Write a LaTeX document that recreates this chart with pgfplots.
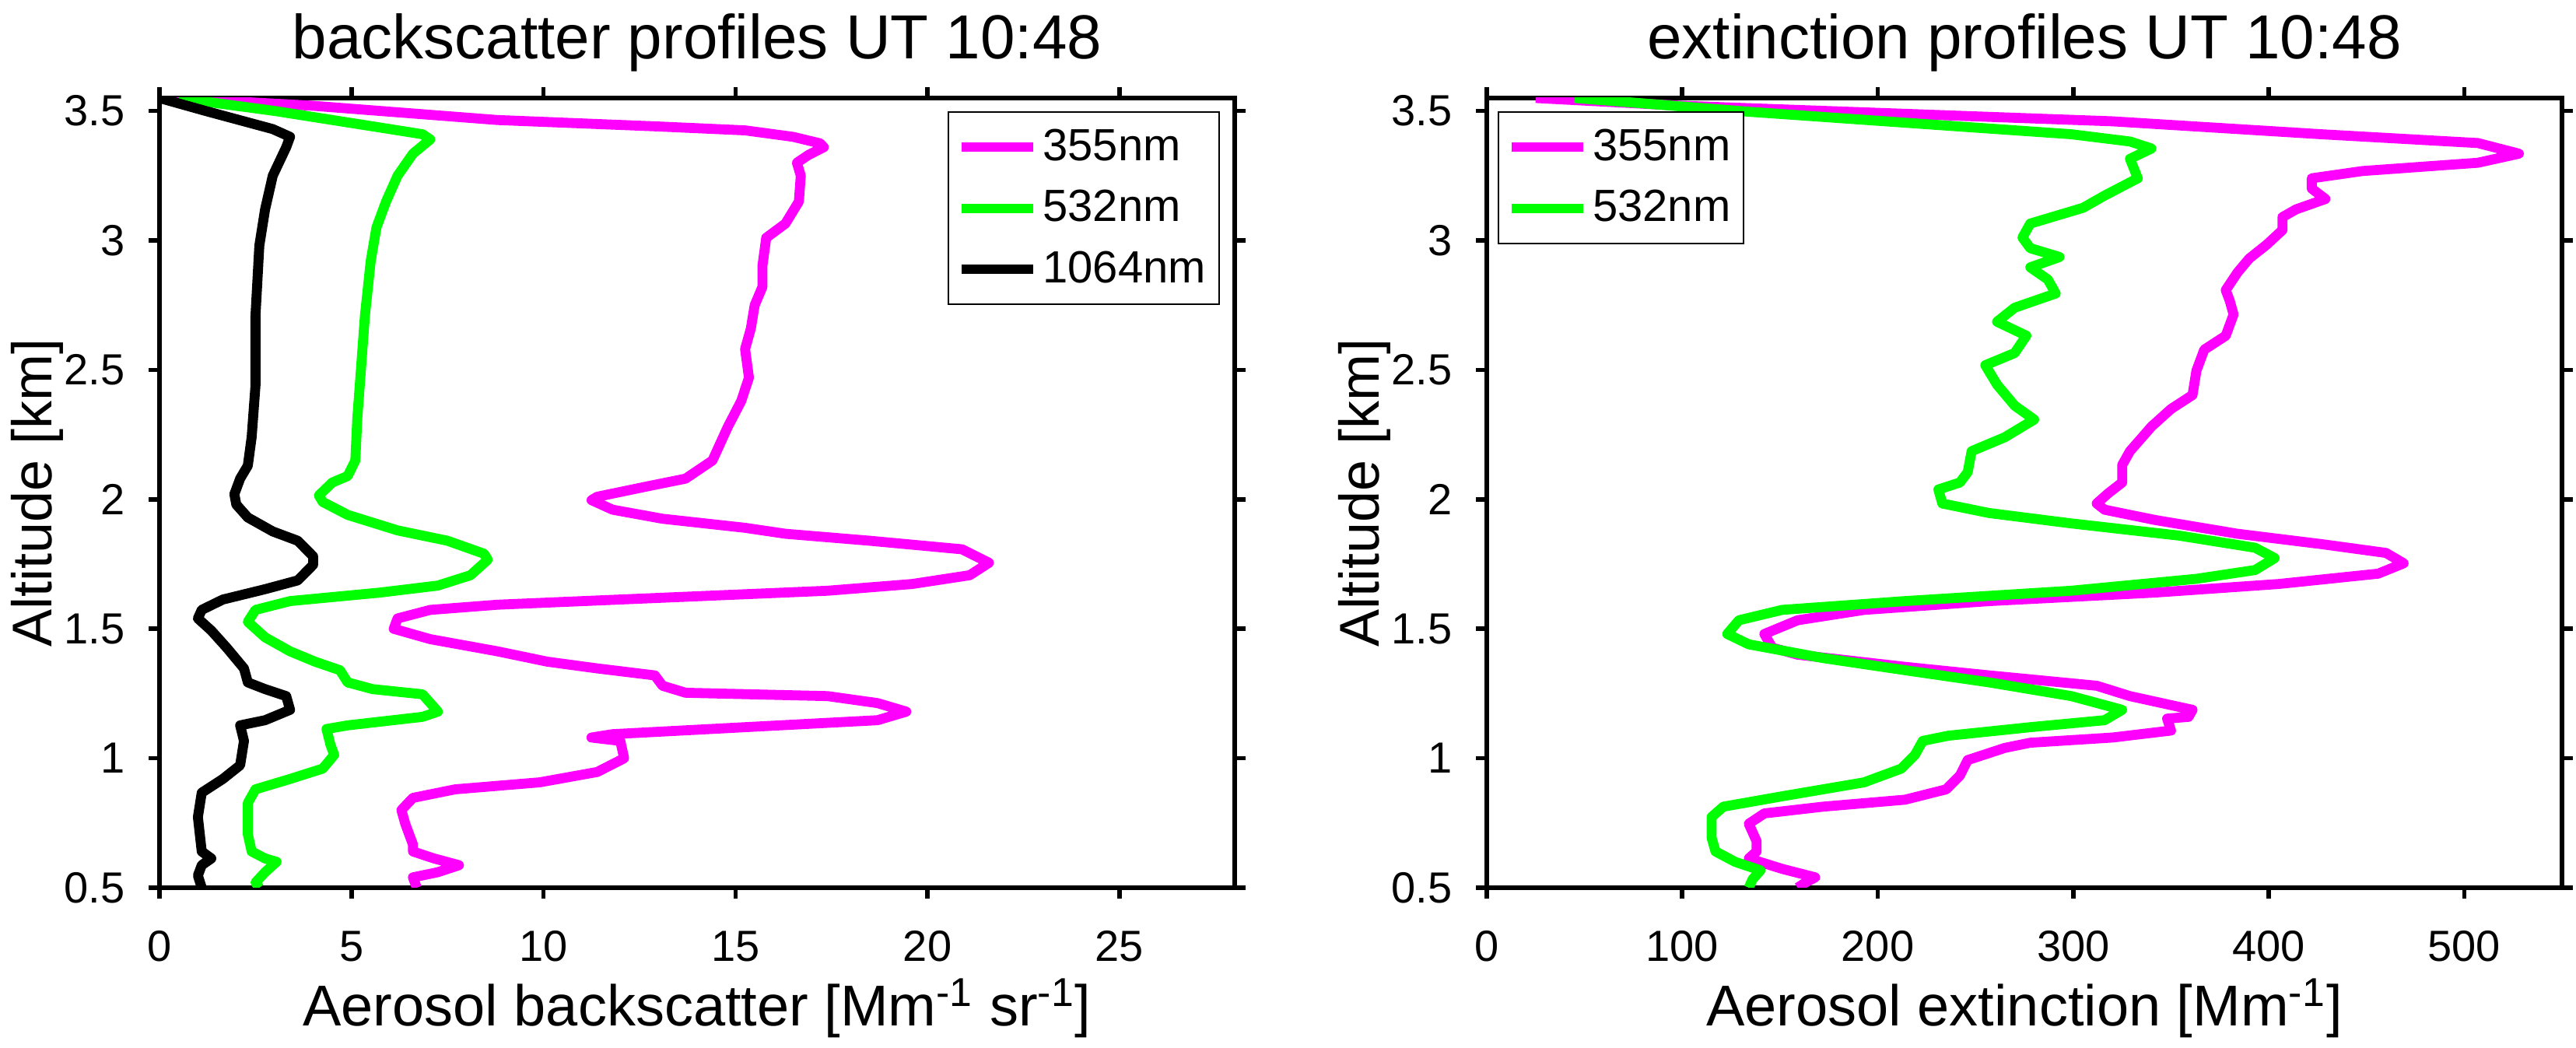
\documentclass[border=0pt]{standalone}
\usepackage{fontspec}
\setmainfont{Liberation Sans}
\usepackage{pgfplots}
\pgfplotsset{compat=1.18}
\definecolor{mag}{rgb}{1,0,1}
\definecolor{grn}{rgb}{0,1,0}
\pgfplotsset{
  myaxis/.style={
    scale only axis, width=345.5pt, height=253.75pt,
    ymin=0.5, ymax=3.55,
    ytick={0.5,1,1.5,2,2.5,3,3.5},
    tick align=outside,
    major tick length=3.5pt,
    axis line style={line width=1.4pt},
    every tick/.append style={line width=1.4pt, black},
    tick label style={font=\fontsize{14}{16}\selectfont},
    /pgf/number format/assume math mode=true,
    xticklabel style={anchor=base, yshift=-20.25pt},
    yticklabel style={anchor=east, inner xsep=0pt, xshift=-7.5pt},
    every axis title/.style={font=\fontsize{20}{24}\selectfont, at={(axis description cs:0.5,1)}, anchor=base, yshift=12.5pt},
    xlabel style={font=\fontsize{18.5}{22}\selectfont, at={(axis description cs:0.5,0)}, anchor=base, yshift=-44.5pt},
    ylabel style={font=\fontsize{18}{22}\selectfont, at={(axis description cs:-0.0999,0.5)}, anchor=base},
    ylabel={Altitude [km]},
    every axis plot/.append style={line width=3.2pt, line join=round},
    legend cell align=left,
    legend image code/.code={\draw[#1, line width=3pt] (0pt,0pt) -- (23pt,0pt);},
    legend style={draw=black, line width=0.5pt, font=\fontsize{14.5}{17}\selectfont,
      inner xsep=2.75pt, inner ysep=4pt, row sep=5pt, nodes={inner sep=1.5pt}},
  }
}
\begin{document}
\begin{tikzpicture}
\useasboundingbox (0,0) rectangle (827.75pt,336.75pt);
\begin{axis}[myaxis, at={(51.25pt,51.5pt)}, anchor=south west,
  xmin=0, xmax=28, xtick={0,5,10,15,20,25},
  title={backscatter profiles UT 10:48},
  xlabel={Aerosol backscatter [Mm\textsuperscript{-1} sr\textsuperscript{-1}]},
  legend style={at={(axis description cs:0.98625,0.98325)}, anchor=north east}]
\addplot[mag] coordinates {
(0.3,3.55) (4,3.52) (8.8,3.465) (13,3.44) (15.25,3.425) (16.5,3.40) (17.2,3.375) (17.3,3.36)
(16.9,3.33) (16.6,3.30) (16.7,3.25) (16.65,3.15) (16.3,3.065) (15.8,3.01) (15.7,2.90) (15.7,2.82)
(15.5,2.75) (15.4,2.66) (15.25,2.58) (15.35,2.47) (15.15,2.38) (14.8,2.28) (14.4,2.15) (13.7,2.08)
(12.7,2.05) (11.4,2.01) (11.25,1.997) (11.8,1.96) (13.1,1.925) (15.25,1.89) (16.3,1.867) (18.5,1.84)
(20.9,1.807) (21.6,1.755) (21.1,1.707) (19.6,1.673) (17.4,1.647) (13.1,1.62) (8.8,1.593) (7.05,1.573)
(6.2,1.54) (6.1,1.5) (7.05,1.46) (8.8,1.413) (10.1,1.373) (11.4,1.347) (12.9,1.32) (13.1,1.28)
(13.7,1.253) (17.4,1.24) (18.7,1.213) (19.45,1.18) (18.7,1.147) (15.25,1.12) (11.8,1.093) (11.25,1.08)
(12.0,1.067) (12.1,1.0) (11.4,0.947) (9.9,0.907) (7.7,0.88) (6.6,0.847) (6.3,0.8) (6.4,0.747)
(6.6,0.667) (6.6,0.64) (7.15,0.613) (7.8,0.587) (7.25,0.56) (6.6,0.54) (6.7,0.5)
};
\addlegendentry{355nm}
\addplot[grn] coordinates {
(0.5,3.55) (3,3.50) (6.0,3.43) (6.85,3.41) (7.05,3.39) (6.6,3.335) (6.2,3.25) (5.9,3.15)
(5.65,3.05) (5.5,2.92) (5.35,2.71) (5.25,2.51) (5.15,2.31) (5.1,2.15) (4.9,2.09) (4.5,2.065)
(4.15,2.015) (4.25,1.99) (4.9,1.94) (6.2,1.88) (7.5,1.84) (8.45,1.79) (8.55,1.767) (8.1,1.707)
(7.25,1.667) (5.75,1.64) (3.4,1.607) (2.5,1.573) (2.3,1.527) (2.75,1.467) (3.4,1.413) (4.05,1.373)
(4.7,1.34) (4.9,1.293) (5.55,1.267) (6.85,1.247) (7.25,1.18) (6.85,1.16) (4.9,1.127) (4.35,1.113)
(4.45,1.053) (4.55,1.013) (4.25,0.96) (3.4,0.92) (2.5,0.88) (2.3,0.827) (2.3,0.707) (2.4,0.64)
(2.75,0.613) (3.05,0.6) (2.75,0.56) (2.5,0.52) (2.6,0.5)
};
\addlegendentry{532nm}
\addplot[black] coordinates {
(0,3.55) (1.2,3.50) (2.95,3.43) (3.4,3.40) (3.3,3.36) (2.95,3.25) (2.75,3.12) (2.6,2.98)
(2.5,2.71) (2.5,2.44) (2.4,2.24) (2.3,2.13) (2.1,2.08) (1.95,2.02) (2.0,1.98) (2.3,1.93)
(2.95,1.876) (3.6,1.84) (4.0,1.78) (4.0,1.747) (3.6,1.687) (2.75,1.653) (1.65,1.613) (1.1,1.573)
(1.0,1.54) (1.35,1.493) (1.75,1.427) (2.2,1.347) (2.3,1.293) (2.75,1.267) (3.3,1.24) (3.4,1.187)
(2.75,1.147) (2.1,1.127) (2.2,1.067) (2.1,0.973) (1.65,0.92) (1.1,0.867) (1.0,0.773) (1.1,0.64)
(1.35,0.613) (1.1,0.587) (1.0,0.547) (1.1,0.5)
};
\addlegendentry{1064nm}
\end{axis}
\begin{axis}[myaxis, at={(477.75pt,51.5pt)}, anchor=south west,
  xmin=0, xmax=550, xtick={0,100,200,300,400,500},
  title={extinction profiles UT 10:48},
  xlabel={Aerosol extinction [Mm\textsuperscript{-1}]},
  legend style={at={(axis description cs:0.01013,0.98325)}, anchor=north west}]
\addplot[mag] coordinates {
(25,3.55) (100,3.52) (320,3.46) (427,3.41) (507,3.376) (528,3.335) (507,3.30) (448,3.268)
(422,3.24) (422,3.20) (429,3.16) (414,3.12) (407,3.09) (407,3.04) (399,2.984) (390,2.93)
(384,2.876) (378,2.808) (380,2.768) (382,2.714) (378,2.632) (367,2.578) (363,2.497) (361,2.403)
(350,2.349) (340,2.281) (329,2.186) (325,2.132) (325,2.065) (318,2.024) (312,1.984) (316,1.96)
(342,1.92) (384,1.867) (427,1.827) (460,1.793) (469,1.753) (456,1.713) (405,1.673) (342,1.64)
(257,1.607) (193,1.573) (159,1.533) (142,1.48) (146,1.427) (159,1.40) (214,1.353) (257,1.32)
(312,1.28) (329,1.24) (361,1.187) (359,1.16) (348,1.153) (350,1.107) (320,1.08) (278,1.06)
(265,1.04) (246,0.993) (242,0.933) (235,0.88) (214,0.84) (172,0.813) (142,0.787) (134,0.747)
(138,0.68) (138,0.64) (134,0.613) (151,0.573) (168,0.54) (163,0.52) (159,0.5)
};
\addlegendentry{355nm}
\addplot[grn] coordinates {
(45,3.55) (134,3.497) (236,3.443) (299,3.41) (329,3.382) (340,3.355) (329,3.315) (333,3.24)
(316,3.173) (305,3.126) (278,3.065) (274,3.011) (278,2.97) (293,2.936) (278,2.896) (287,2.849)
(291,2.795) (270,2.74) (261,2.686) (276,2.632) (270,2.565) (255,2.518) (261,2.443) (270,2.362)
(280,2.308) (265,2.24) (248,2.186) (246,2.105) (242,2.065) (231,2.038) (233,1.984) (257,1.947)
(299,1.907) (354,1.86) (393,1.813) (403,1.773) (393,1.727) (363,1.693) (299,1.647) (214,1.607)
(151,1.573) (129,1.533) (123,1.48) (134,1.44) (172,1.387) (214,1.34) (257,1.293) (299,1.24)
(325,1.187) (316,1.147) (278,1.12) (236,1.087) (223,1.067) (219,1.013) (212,0.96) (193,0.907)
(151,0.853) (121,0.813) (115,0.773) (115,0.693) (117,0.64) (127,0.6) (140,0.567) (136,0.533) (134,0.5)
};
\addlegendentry{532nm}
\end{axis}
\end{tikzpicture}
\end{document}
